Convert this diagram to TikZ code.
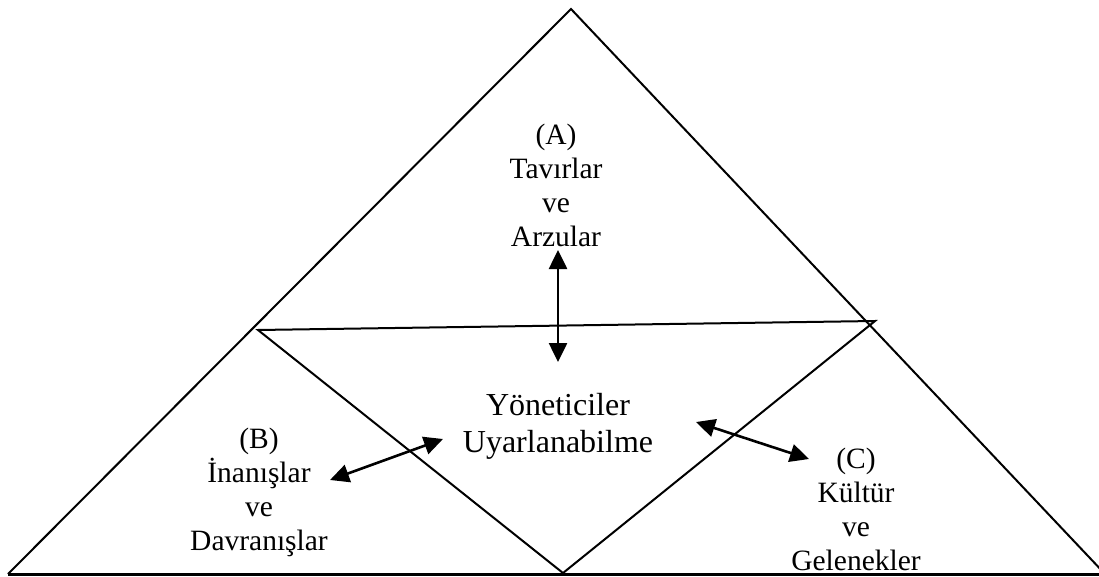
\documentclass[tikz,border=0pt]{standalone}
\usepackage{fontspec}
\setmainfont{Liberation Serif}
\usetikzlibrary{arrows.meta}
\begin{document}
\begin{tikzpicture}[x=1pt,y=-1pt,
  edge/.style={line width=2pt, line join=miter},
  baseedge/.style={line width=3pt},
  dbl/.style={line width=2.6pt, {Triangle[length=19pt,width=18pt]}-{Triangle[length=19pt,width=18pt]}},
  lbl/.style={font=\fontsize{29.5}{34}\selectfont, align=center, anchor=base, inner sep=0pt},
  mainlbl/.style={font=\fontsize{32}{37}\selectfont, align=center, anchor=base, inner sep=0pt}]
\useasboundingbox (0,0) rectangle (1099,577);
\clip (0,0) rectangle (1099,577);
% outer triangle
\coordinate (apex) at (571,9);
\coordinate (bl) at (8,574);
\coordinate (br) at (1105,574);
\draw[edge] (bl) -- (apex) -- (br);
\draw[baseedge] (bl) -- (1110,574);
% inner inverted triangle
\coordinate (il) at (258,330);
\coordinate (ir) at (875,321);
\coordinate (ib) at (563,573);
\draw[edge] (il) -- (ir) -- (ib) -- cycle;
% labels (anchor base = baseline of the last line)
\node[lbl] (A) at (556,247) {(A)\\Tavırlar\\ve\\Arzular};
\node[lbl] (B) at (259,550) {(B)\\İnanışlar\\ve\\Davranışlar};
\node[lbl] (C) at (856,570) {(C)\\Kültür\\ve\\Gelenekler};
\node[mainlbl] (M) at (558,452) {Yöneticiler\\Uyarlanabilme};
% arrows
\coordinate (a1) at (558,250);
\coordinate (a2) at (558,362);
\coordinate (b1) at (330,480);
\coordinate (b2) at (443,439);
\coordinate (c1) at (696,422);
\coordinate (c2) at (809,459);
\draw[dbl] (a1) -- (a2);
\draw[dbl] (b1) -- (b2);
\draw[dbl] (c1) -- (c2);
\end{tikzpicture}
\end{document}
